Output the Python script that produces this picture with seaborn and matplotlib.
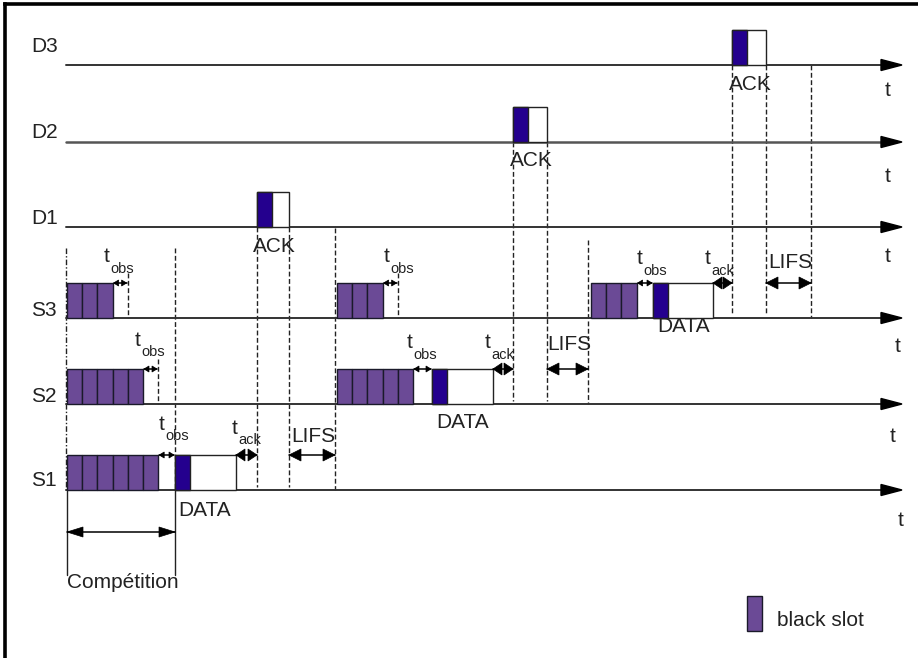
import matplotlib
matplotlib.use("Agg")
import matplotlib.pyplot as plt
from matplotlib.patches import Rectangle, Polygon
import seaborn as sns

sns.set_theme(style="white")
plt.rcParams['font.family'] = ['Liberation Sans', 'DejaVu Sans']

# ---------------- data (time axis in diagram units) ----------------
rows = ["D3", "D2", "D1", "S3", "S2", "S1"]
row_level = {"D3": 65, "D2": 142, "D1": 227, "S3": 318, "S2": 404, "S1": 490}

round_start = [67, 337, 591]                      # start of each competition round
round_slots = [{"S1": 6, "S2": 5, "S3": 3},       # number of black slots per station
               {"S2": 5, "S3": 3},
               {"S3": 3}]
winner = ["S1", "S2", "S3"]
ack_row = ["D1", "D2", "D3"]
slot_len = 15.2
t_obs = 15
data_start = [175, 432, 653]
data_end = [236, 493, 713]
black_len = 15
ack_start = [257, 513, 732]
ack_end = [289, 547, 766]
lifs_end = [335, 588, 811]

# vertical marker extents (top of dashed lines)
lifs_top = [228, 240, 65]

PURPLE = "#6b4a96"
DARKBLUE = "#24008e"
INK = "#222222"
T_END = 885
S_H = 35
A_H = 35

fig = plt.figure(figsize=(9.18, 6.58), dpi=100)
ax = fig.add_axes([0, 0, 1, 1])
ax.set_xlim(0, 918)
ax.set_ylim(658, 0)
ax.axis("off")

# frame (top & left)
ax.plot([5, 5], [658, 4], color="black", lw=2.6, solid_capstyle="projecting")
ax.plot([5, 918], [4, 4], color="black", lw=2.6, solid_capstyle="projecting")

label_y = {"D3": 47, "D2": 133, "D1": 218, "S3": 310, "S2": 397, "S1": 480}
t_pos = {"D3": (888, 90), "D2": (888, 176), "D1": (888, 257),
         "S3": (898, 346), "S2": (893, 437), "S1": (901, 520)}
for r in rows:
    y = row_level[r]
    ax.plot([66, T_END], [y, y], color="#333333" if r != "D2" else "#555555",
            lw=1.4 if r != "D2" else 1.8, zorder=2)
    ax.add_patch(Polygon([[T_END - 4, y - 5.5], [902, y], [T_END - 4, y + 5.5]],
                         closed=True, color="black", zorder=3))
    ax.text(31, label_y[r], r, fontsize=15, color=INK, ha="left", va="center")
    tx, ty = t_pos[r]
    ax.text(tx, ty, "t", fontsize=15, color=INK, ha="center", va="center")


def dashed(x, y0, y1, style=(0, (3.5, 1.8))):
    ax.plot([x, x], [y0, y1], color="#222222", lw=1.0, linestyle=style, zorder=1)


def darrow(x0, x1, y, L, W):
    ax.plot([x0, x1], [y, y], color="black", lw=1.1, zorder=4)
    ax.add_patch(Polygon([[x0, y], [x0 + L, y - W], [x0 + L, y + W]], closed=True,
                         facecolor="black", edgecolor="black", lw=0.5, zorder=5))
    ax.add_patch(Polygon([[x1, y], [x1 - L, y - W], [x1 - L, y + W]], closed=True,
                         facecolor="black", edgecolor="black", lw=0.5, zorder=5))


def sub_label(x, y, main, sub):
    ax.text(x, y, main, fontsize=15, color=INK, ha="center", va="center")
    ax.text(x + 3.5, y + 12, sub, fontsize=10.5, color=INK, ha="left", va="center")


tobs_label = {(0, "S3"): (107, 257), (0, "S2"): (138, 340), (0, "S1"): (162, 424),
              (1, "S3"): (387, 257), (1, "S2"): (410, 343), (2, "S3"): (640, 259)}
tack_label = [(235, 428), (488, 343), (708, 259)]
lifs_label = [(313, 437), (569, 345), (790, 263)]
data_label = [(205, 510), (463, 422), (684, 327)]
ack_label_dy = 21

for k in range(3):
    x0 = round_start[k]
    for st, n in round_slots[k].items():
        base = row_level[st]
        for i in range(n):
            ax.add_patch(Rectangle((x0 + i * slot_len, base - S_H), slot_len, S_H,
                                   facecolor=PURPLE, edgecolor="#1a1a2a", lw=1.0, zorder=3))
        end = x0 + n * slot_len
        top = base - S_H
        if st == winner[k]:
            obs_end = data_start[k]
        else:
            obs_end = end + t_obs
            dashed(obs_end, top - 10, base)
        darrow(end + 1, obs_end - 1, top, 5, 3)
        lx, ly = tobs_label[(k, st)]
        sub_label(lx, ly, "t", "obs")

    # data frame of the winner
    st = winner[k]
    base = row_level[st]
    top = base - S_H
    ax.add_patch(Rectangle((data_start[k], top), data_end[k] - data_start[k], S_H,
                           facecolor="white", edgecolor="#222222", lw=1.0, zorder=3))
    ax.add_patch(Rectangle((data_start[k], top), black_len, S_H,
                           facecolor=DARKBLUE, edgecolor="#222222", lw=1.0, zorder=3))
    ax.text(*data_label[k], "DATA", fontsize=15, color=INK, ha="center", va="center")
    darrow(data_end[k], ack_start[k], top, 9, 6)
    sub_label(*tack_label[k], "t", "ack")
    darrow(ack_end[k], lifs_end[k], top, 12, 6)
    ax.text(*lifs_label[k], "LIFS", fontsize=15, color=INK, ha="center", va="center")

    # ACK frame on destination
    d = ack_row[k]
    dl = row_level[d]
    ax.add_patch(Rectangle((ack_start[k], dl - A_H), ack_end[k] - ack_start[k], A_H,
                           facecolor="white", edgecolor="#222222", lw=1.0, zorder=3))
    ax.add_patch(Rectangle((ack_start[k], dl - A_H), black_len, A_H,
                           facecolor=DARKBLUE, edgecolor="#222222", lw=1.0, zorder=3))
    ax.text((ack_start[k] + ack_end[k]) / 2 + 1, dl + ack_label_dy - 2, "ACK", fontsize=15,
            color=INK, ha="center", va="center")
    dashed(ack_start[k], dl, base - 3)
    dashed(ack_end[k], dl, base - 3)
    dashed(lifs_end[k], lifs_top[k], base)

# round 1 boundaries + competition window
dashed(66, 248, 490, style=(0, (4, 1.5, 1, 1.5)))
dashed(data_start[0], 248, 490)
ax.plot([67, 67], [490, 575], color="#222222", lw=1.0)
ax.plot([data_start[0], data_start[0]], [490, 575], color="#222222", lw=1.0)
darrow(67, data_start[0], 532, 16, 5)
ax.text(67, 582, "Compétition", fontsize=15, color=INK, ha="left", va="center")

# legend
ax.add_patch(Rectangle((747, 596), 15, 35, facecolor=PURPLE, edgecolor="#1a1a2a", lw=1.0))
ax.text(777, 620, "black slot", fontsize=15, color=INK, ha="left", va="center")

fig.savefig("out.png", dpi=100)
